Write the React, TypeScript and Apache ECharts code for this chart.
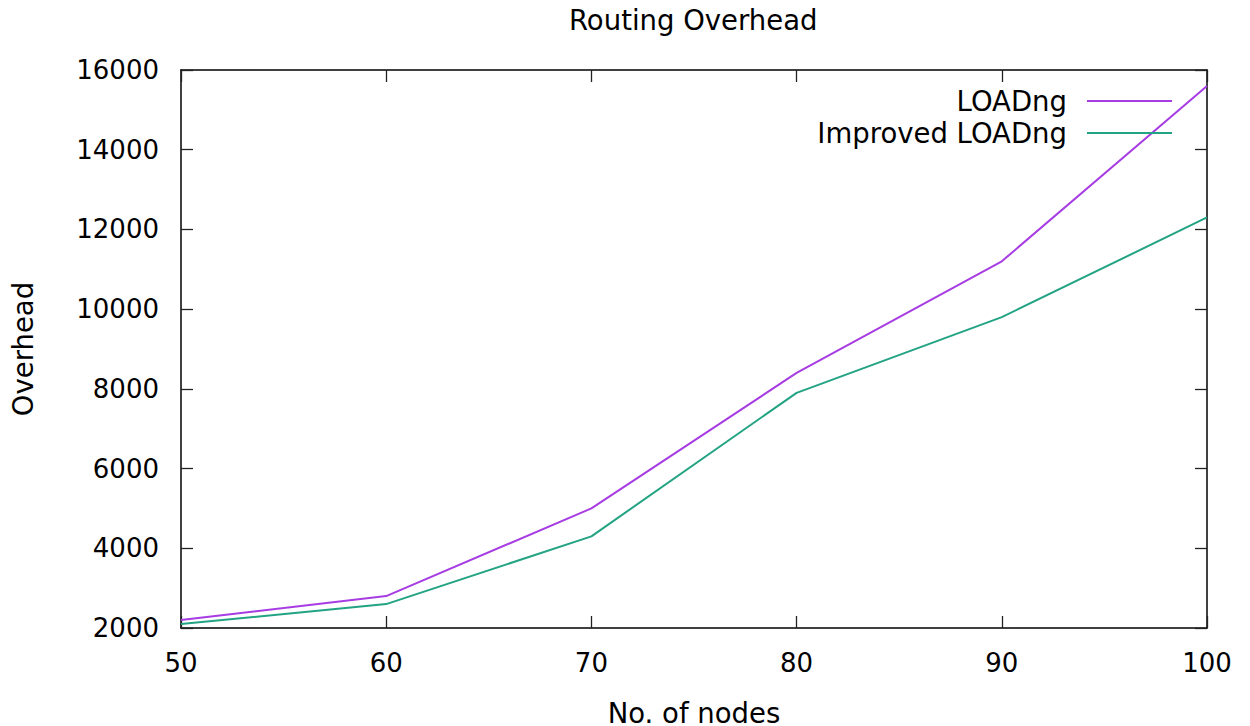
import React, { useEffect, useRef } from "react";
import * as echarts from "echarts";

const nodes = [50, 60, 70, 80, 90, 100];
const loadng = [2200, 2800, 5000, 8400, 11200, 15600];
const improved = [2100, 2600, 4300, 7900, 9800, 12300];
const seriesNames = ["LOADng", "Improved LOADng"];
const colors = ["#a63ce2", "#22a383"];

const FONT = "DejaVu Sans";
const FS_TICK = 26;
const FS_TEXT = 27.5;

export default function App() {
  const ref = useRef<HTMLDivElement>(null);
  useEffect(() => {
    if (!ref.current) return;
    const chart = echarts.init(ref.current, undefined, { renderer: "svg" });
    const axisLine = { show: true, lineStyle: { color: "#000", width: 1.5 } };
    const tick = { show: true, inside: true, length: 12, lineStyle: { color: "#222", width: 1.3 } };
    const tickLabel = { color: "#000", fontFamily: FONT, fontSize: FS_TICK, formatter: (v: number) => String(v) };
    const nameStyle = { color: "#000", fontFamily: FONT, fontSize: FS_TEXT };
    const baseX = { type: "value", min: 50, max: 100, interval: 10, splitLine: { show: false }, axisLine, axisTick: tick };
    const baseY = { type: "value", min: 2000, max: 16000, interval: 2000, splitLine: { show: false }, axisLine, axisTick: tick };
    const mkLegend = (name: string, top: number) => ({
      data: [name],
      right: 78,
      top,
      padding: 0,
      align: "right",
      icon: "rect",
      itemWidth: 85,
      itemHeight: 2,
      selectedMode: false,
      textStyle: { color: "#000", fontFamily: FONT, fontSize: FS_TEXT, padding: [0, 15, 0, 0] },
    });
    chart.setOption({
      animation: false,
      backgroundColor: "#fff",
      title: {
        text: "Routing Overhead",
        left: 569,
        top: 6,
        padding: 0,
        textStyle: { color: "#000", fontFamily: FONT, fontSize: FS_TEXT, fontWeight: "normal" },
      },
      legend: [mkLegend(seriesNames[0], 87), mkLegend(seriesNames[1], 119)],
      grid: { left: 181, right: 43, top: 70, bottom: 98, containLabel: false, outerBoundsMode: "none" },
      xAxis: [
        {
          ...baseX,
          position: "bottom",
          name: "No. of nodes",
          nameLocation: "middle",
          nameGap: 71,
          nameTextStyle: nameStyle,
          axisLabel: { ...tickLabel, margin: 22 },
        },
        { ...baseX, position: "top", axisLabel: { show: false } },
      ],
      yAxis: [
        {
          ...baseY,
          position: "left",
          name: "Overhead",
          nameLocation: "middle",
          nameGap: 144,
          nameTextStyle: nameStyle,
          axisLabel: { ...tickLabel, margin: 22 },
        },
        { ...baseY, position: "right", axisLabel: { show: false } },
      ],
      series: [
        {
          name: seriesNames[0],
          type: "line",
          symbol: "none",
          data: nodes.map((x, i) => [x, loadng[i]]),
          lineStyle: { color: colors[0], width: 2 },
          itemStyle: { color: colors[0] },
        },
        {
          name: seriesNames[1],
          type: "line",
          symbol: "none",
          data: nodes.map((x, i) => [x, improved[i]]),
          lineStyle: { color: colors[1], width: 2 },
          itemStyle: { color: colors[1] },
        },
      ],
    });
    return () => chart.dispose();
  }, []);
  return (
    <div
      ref={ref}
      style={{ position: "fixed", left: 0, top: 0, width: 1250, height: 726 }}
    />
  );
}
